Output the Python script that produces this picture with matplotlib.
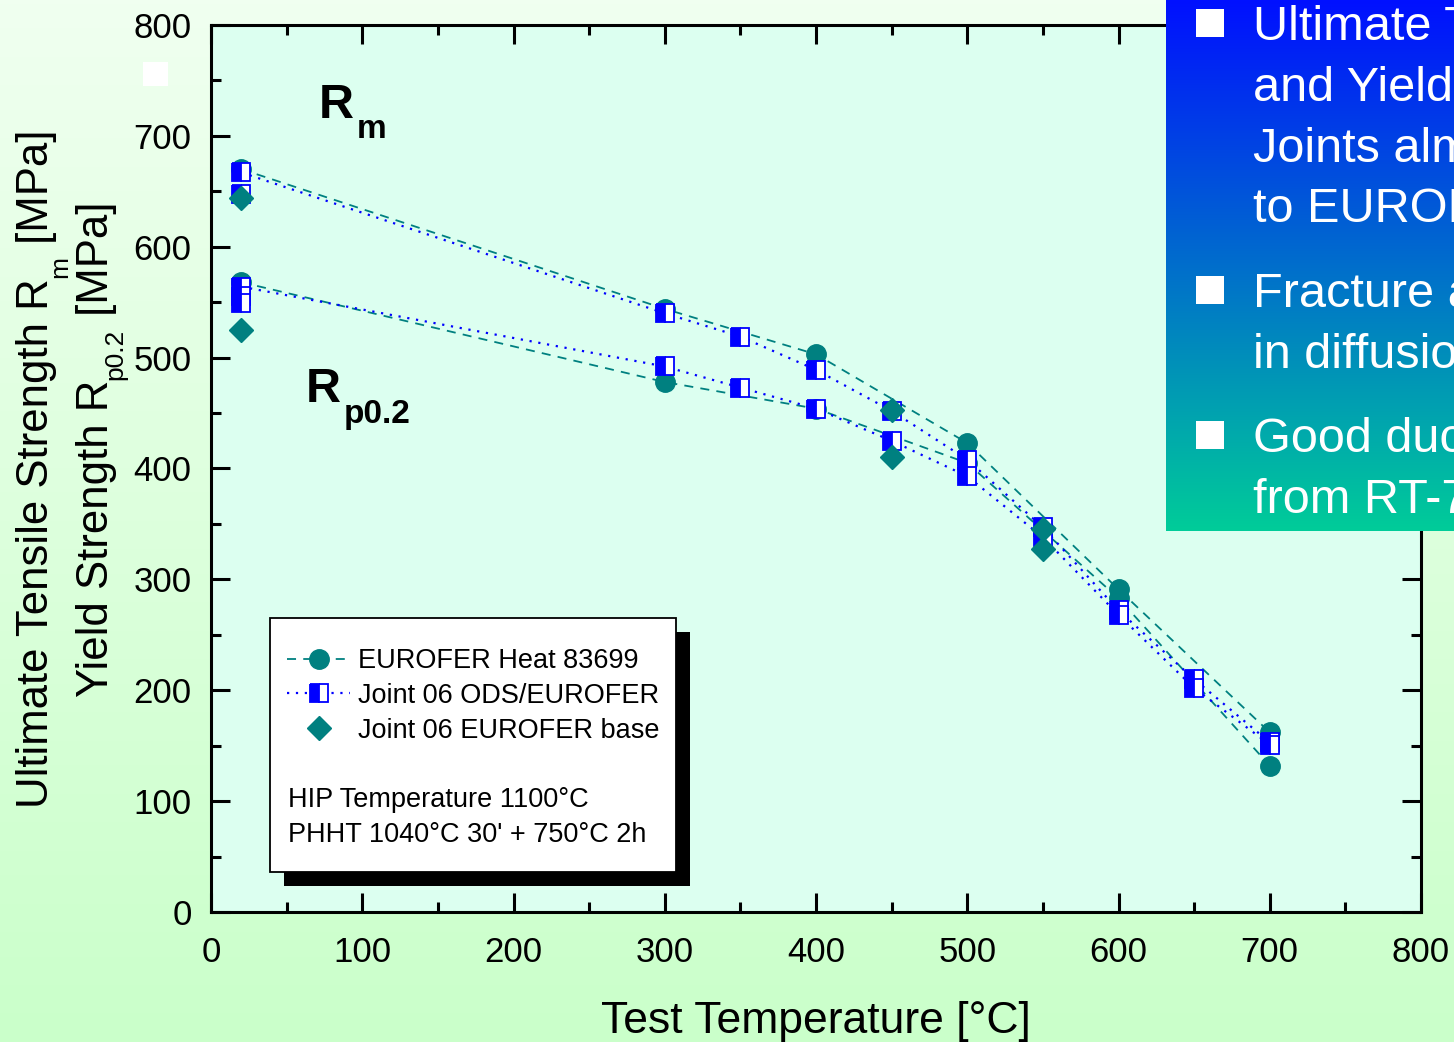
import numpy as np
import matplotlib
matplotlib.use('Agg')
import matplotlib.pyplot as plt
from matplotlib.patches import Rectangle
from matplotlib.lines import Line2D

plt.rcParams['font.family'] = ['Liberation Sans', 'DejaVu Sans']

# EUROFER Heat 83699
eu_temp = [20, 300, 400, 500, 600, 700]
eu_rm = [670, 544, 503, 423, 291, 162]
eu_rp = [568, 478, 454, 405, 283, 132]

# Joint 06 ODS/EUROFER
jt_temp = [20, 300, 350, 400, 450, 500, 550, 600, 650, 700]
jt_rm = [667, 540, 519, 489, 452, 408, 347, 272, 210, 153]
jt_rp = [564, 492, 473, 454, 425, 393, 338, 268, 202, 151]
# repeated room temperature tests of the joint
jt_rt_temp = [20, 20, 20]
jt_rt_vals = [648, 556, 549]

# Joint 06 EUROFER base
base_temp = [20, 450, 550]
base_rm = [644, 453, 345]
base_rp = [525, 410, 327]

xticks = [0, 100, 200, 300, 400, 500, 600, 700, 800]
yticks = [0, 100, 200, 300, 400, 500, 600, 700, 800]

box_lines = [('Ultimate Tensile Strength', 40), ('and Yield Strength of', 101),
             ('Joints almost equal', 162), ('to EUROFER', 222),
             ('Fracture always', 307), ('in diffusion zone', 368),
             ('Good ductility', 452), ('from RT-700°C', 513)]
bullet_y = [23, 290, 435]

TEAL = '#008080'
BLUE = '#0000ff'
W, H = 1454, 1042


def fx(px):
    return px / W


def fy(py):
    return 1 - py / H


def gradient(top, bottom, n=256):
    top = np.array(top) / 255
    bottom = np.array(bottom) / 255
    t = np.linspace(0, 1, n)[:, None]
    return (top + (bottom - top) * t)[:, None, :]


def vlabel(fig, x_base, y_start, parts):
    # rotated label built piece by piece so the subscript can sit lower
    renderer = fig.canvas.get_renderer()
    y = H - y_start
    for txt, size, drop in parts:
        t = fig.text(fx(x_base + drop), y / H, txt, fontsize=size, rotation=90,
                     rotation_mode='anchor', ha='left', va='baseline')
        y += t.get_window_extent(renderer).height


fig = plt.figure(figsize=(W / 100, H / 100), dpi=100)

# background
bg = fig.add_axes([0, 0, 1, 1], zorder=-2)
bg.imshow(gradient((240, 255, 240), (202, 255, 202)), aspect='auto', extent=[0, 1, 0, 1])
bg.axis('off')

ax = fig.add_axes([fx(211), fy(912), (1421 - 211) / W, (912 - 25) / H], zorder=1)
ax.set_facecolor('#dcfff0')

ax.plot(eu_temp, eu_rm, color=TEAL, lw=1.3, dashes=(5, 4), marker='o', ms=14, mec=TEAL, zorder=3)
ax.plot(eu_temp, eu_rp, color=TEAL, lw=1.3, dashes=(5, 4), marker='o', ms=14, mec=TEAL, zorder=3)

sq = dict(marker='s', ms=13, fillstyle='left', mfc=BLUE, mfcalt='white', mec=BLUE, mew=1.3)
ax.plot(jt_temp, jt_rm, color=BLUE, lw=1.6, linestyle=(0, (1, 3)), zorder=4, **sq)
ax.plot(jt_temp, jt_rp, color=BLUE, lw=1.6, linestyle=(0, (1, 3)), zorder=4, **sq)
ax.plot(jt_rt_temp, jt_rt_vals, linestyle='none', zorder=4, **sq)

ax.plot(base_temp, base_rm, linestyle='none', marker='D', ms=12.5, color=TEAL, zorder=5)
ax.plot(base_temp, base_rp, linestyle='none', marker='D', ms=12.5, color=TEAL, zorder=5)

ax.set_xlim(0, 800)
ax.set_ylim(0, 800)
ax.set_xticks(xticks)
ax.set_yticks(yticks)
ax.set_xticks(np.arange(50, 800, 100), minor=True)
ax.set_yticks(np.arange(50, 800, 100), minor=True)
ax.tick_params(which='both', direction='in', top=True, right=True, width=2.2, labelsize=25)
ax.tick_params(which='major', length=14)
ax.tick_params(which='minor', length=7)
ax.tick_params(axis='x', pad=17)
ax.tick_params(axis='y', pad=14)
for s in ax.spines.values():
    s.set_linewidth(2.2)

# axis titles
fig.text(fx(816), fy(1033), 'Test Temperature [°C]', fontsize=32, ha='center', va='baseline')
vlabel(fig, 48, 808, [('Ultimate Tensile Strength R', 31.5, 0), ('m', 19, 19),
                      (' [MPa]', 31.5, 0)])
vlabel(fig, 108, 697, [('Yield Strength R', 31.5, 0), ('p0.2', 19, 14),
                       (' [MPa]', 31.5, 0)])

# curve annotations
fig.text(fx(319), fy(118), 'R', fontsize=35, fontweight='bold', va='baseline')
fig.text(fx(357), fy(138), 'm', fontsize=24, fontweight='bold', va='baseline')
fig.text(fx(306), fy(402), 'R', fontsize=35, fontweight='bold', va='baseline')
fig.text(fx(344), fy(423), 'p0.2', fontsize=24, fontweight='bold', va='baseline')

# stray white square
fig.patches.append(Rectangle((fx(143), fy(86)), 25 / W, 24 / H, transform=fig.transFigure,
                             facecolor='white', edgecolor='none', zorder=3))

# legend box with shadow
fig.patches.append(Rectangle((fx(284), fy(886)), 406 / W, 254 / H, transform=fig.transFigure,
                             facecolor='black', edgecolor='none', zorder=6))
fig.patches.append(Rectangle((fx(270), fy(872)), 406 / W, 254 / H, transform=fig.transFigure,
                             facecolor='white', edgecolor='black', lw=1.3, zorder=7))
fig.add_artist(Line2D([fx(287), fx(350)], [fy(659), fy(659)], transform=fig.transFigure,
                      color=TEAL, lw=1.3, dashes=(5, 4), zorder=8))
fig.add_artist(Line2D([fx(319)], [fy(659)], transform=fig.transFigure, marker='o', ms=14,
                      color=TEAL, zorder=8))
fig.add_artist(Line2D([fx(287), fx(350)], [fy(693), fy(693)], transform=fig.transFigure,
                      color=BLUE, lw=1.6, linestyle=(0, (1, 3)), zorder=8))
fig.add_artist(Line2D([fx(319)], [fy(693)], transform=fig.transFigure, linestyle='none',
                      zorder=8, **sq))
fig.add_artist(Line2D([fx(319)], [fy(728)], transform=fig.transFigure, marker='D', ms=12.5,
                      color=TEAL, zorder=8))
leg_labels = [('EUROFER Heat 83699', 358, 668), ('Joint 06 ODS/EUROFER', 358, 703),
              ('Joint 06 EUROFER base', 358, 738), ('HIP Temperature 1100°C', 288, 807),
              ("PHHT 1040°C 30' + 750°C 2h", 288, 842)]
for txt, x, y in leg_labels:
    fig.text(fx(x), fy(y), txt, fontsize=19.5, va='baseline', zorder=9)

# summary box
box = fig.add_axes([fx(1166), fy(531), (W - 1166) / W, 531 / H], zorder=2)
box.imshow(gradient((0, 16, 255), (0, 204, 153)), aspect='auto', extent=[0, 1, 0, 1])
box.axis('off')
for y in bullet_y:
    fig.patches.append(Rectangle((fx(1196), fy(y + 14)), 28 / W, 28 / H, transform=fig.transFigure,
                                 facecolor='white', edgecolor='none', zorder=10))
for txt, y in box_lines:
    fig.text(fx(1253), fy(y), txt, fontsize=35, color='white', va='baseline', zorder=10)

fig.savefig('out.png', dpi=100)
